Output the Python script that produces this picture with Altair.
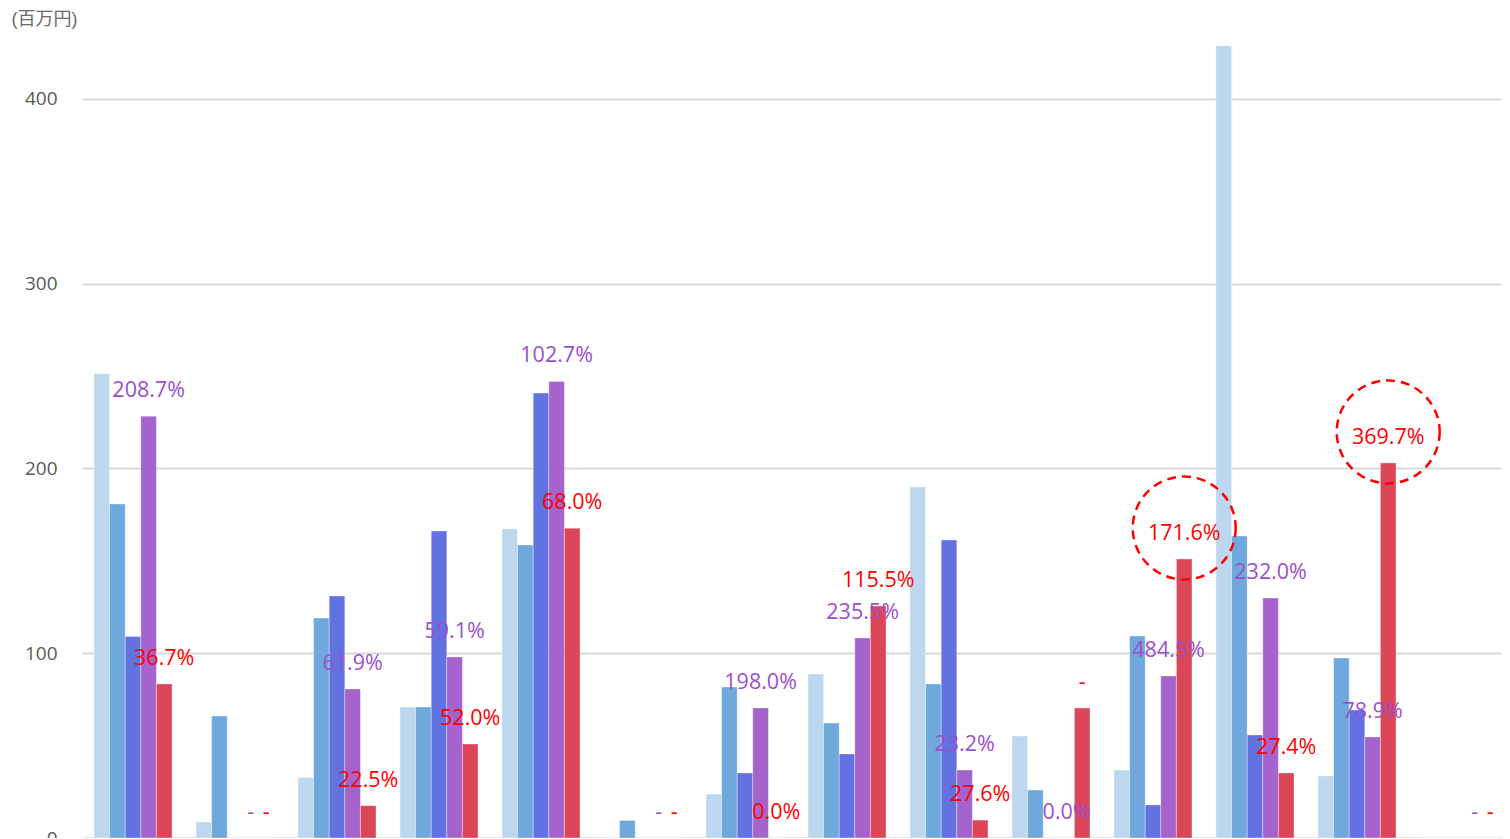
import altair as alt
import pandas as pd

groups = [f"G{i}" for i in range(1, 15)]
series = ["S1", "S2", "S3", "S4", "S5"]
colors = ["#BDD7EE", "#6FA8DC", "#6272E0", "#A563CC", "#DC4659"]

s1 = [251.3, 8.7, 32.7, 70.9, 167.3, 0, 23.8, 88.8, 190.0, 55.2, 36.8, 428.7, 33.6, 0]
s2 = [180.8, 66.0, 119.1, 70.9, 158.6, 9.5, 81.7, 62.2, 83.4, 26.0, 109.3, 163.5, 97.4, 0]
s3 = [109.0, 0, 131.0, 166.2, 240.8, 0, 35.2, 45.5, 161.3, 0, 17.9, 55.8, 69.3, 0]
s4 = [228.3, 0, 80.7, 98.0, 247.1, 0, 70.4, 108.3, 36.8, 0, 87.7, 129.9, 54.7, 0]
s5 = [83.4, 0, 17.5, 50.9, 167.7, 0, 0, 125.6, 9.7, 70.4, 151.0, 35.2, 203.0, 0]

purple_labels = ["208.7%", "-", "61.9%", "59.1%", "102.7%", "-", "198.0%",
                 "235.5%", "23.2%", "0.0%", "484.5%", "232.0%", "78.9%", "-"]
red_labels = ["36.7%", "-", "22.5%", "52.0%", "68.0%", "-", "0.0%",
              "115.5%", "27.6%", "-", "171.6%", "27.4%", "369.7%", "-"]
highlight = [False] * 10 + [True, False, True, False]

values = [s1, s2, s3, s4, s5]
rows = []
for si, s in enumerate(series):
    for gi, g in enumerate(groups):
        rows.append({"group": g, "series": s, "value": values[si][gi]})
df = pd.DataFrame(rows)

lab_p = pd.DataFrame({"group": groups, "series": "S4", "value": s4, "label": purple_labels})
lab_r = pd.DataFrame({"group": groups, "series": "S5", "value": s5, "label": red_labels,
                      "hl": highlight})
circ = lab_r[lab_r["hl"]]

xenc = alt.X("group:N", sort=groups,
             scale=alt.Scale(domain=groups, paddingInner=0.235, paddingOuter=0.0785,
                             align=0.75),
             axis=alt.Axis(labels=False, ticks=False, title=None, domain=True,
                           domainColor="#D9D9D9", domainWidth=2, grid=False))
xoff = alt.XOffset("series:N", sort=series,
                   scale=alt.Scale(domain=series, paddingInner=0, paddingOuter=0))
yenc = alt.Y("value:Q",
             scale=alt.Scale(domain=[0, 440], nice=False),
             axis=alt.Axis(values=[0, 100, 200, 300, 400], grid=True, gridColor="#D9D9D9",
                           gridWidth=2, domain=False, ticks=False, labelPadding=25,
                           labelFontSize=19, labelColor="#595959", labelFont="Open Sans",
                           title="(百万円)", titleAngle=0, titleX=-71, titleY=-6,
                           titleAlign="left", titleBaseline="middle", titleFontSize=18,
                           titleFontWeight="normal", titleColor="#6A6A6A",
                           titleFont="Liberation Sans, Noto Sans CJK JP"))

bars = alt.Chart(df).mark_bar(stroke="white", strokeWidth=0.6, strokeOpacity=0.6).encode(
    x=xenc, xOffset=xoff, y=yenc,
    color=alt.Color("series:N", scale=alt.Scale(domain=series, range=colors), legend=None),
)

tp = alt.Chart(lab_p).mark_text(dy=-25, fontSize=21.5, font="Open Sans", color="#9B4FCC",
                                baseline="middle", align="center").encode(
    x=xenc, xOffset=xoff, y=yenc, text="label:N")
tr = alt.Chart(lab_r).mark_text(dy=-25, fontSize=21.5, font="Open Sans", color="#FF0000",
                                baseline="middle", align="center").encode(
    x=xenc, xOffset=xoff, y=yenc, text="label:N")
circles = alt.Chart(circ).mark_point(shape="circle", size=10600, filled=False,
                                     color="#FF0000", strokeWidth=2.5,
                                     strokeDash=[9, 6], yOffset=-31, opacity=1).encode(
    x=xenc, xOffset=xoff, y=yenc)

chart = alt.layer(bars, tp, tr, circles).properties(
    width=1420, height=813, autosize="none",
    padding={"left": 74, "top": 17, "right": 0, "bottom": 0},
).configure_view(stroke=None)

chart.save("out.html", embed_options={"renderer": "svg", "actions": False})
